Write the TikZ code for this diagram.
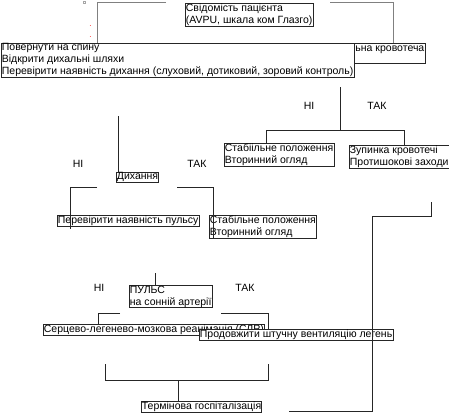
\documentclass[tikz,border=0pt]{standalone}
\usepackage{fontspec}
\setmainfont{Liberation Sans}
\usetikzlibrary{positioning}

\tikzset{
  box/.style={draw=black!85, fill=white, anchor=north west, align=left,
    inner xsep=0.6pt, inner ysep=0.4pt, line width=0.6pt,
    font=\fontsize{10.5}{12}\selectfont},
  lbl/.style={font=\fontsize{10.5}{12}\selectfont},
  link/.style={draw=black!85, line width=0.7pt},
}

\begin{document}
\begin{tikzpicture}[x=1pt,y=-1pt]
\useasboundingbox (0,0) rectangle (449,413);

% boxes
\node[box] (krov) at (335,43) {Сильна кровотеча\\\phantom{x}};
\node[box] (svid) at (185,3) {Свідомість пацієнта\\(AVPU, шкала ком Глазго)};
\node[box] (povern) at (1,43) {Повернути на спину\\Відкрити дихальні шляхи\\Перевірити наявність дихання (слуховий, дотиковий, зоровий контроль)};
\node[box] (stab1) at (224,143) {Стабіільне положення\\Вторинний огляд};
\node[box] (zup) at (349,145) {Зупинка кровотечі\\Протишокові заходи};
\node[box] (dykh) at (116,172) {Дихання};
\node[box] (perev) at (57,215) {Перевірити наявність пульсу};
\node[box] (stab2) at (209,215) {Стабільне положення\\Вторинний огляд};
\node[box] (puls) at (129,285) {ПУЛЬС\\на сонній артерії};
\node[box] (slr) at (43,324) {Серцево-легенево-мозкова реанімація (СЛР)};
\node[box] (shvl) at (199,329) {Продовжити штучну вентиляцію легень};
\node[box] (hosp) at (141,401) {Термінова госпіталізація};

% labels
\node[lbl] (ni1) at (309,106) {НІ};
\node[lbl] (tak1) at (377,106) {ТАК};
\node[lbl] (ni2) at (78,164) {НІ};
\node[lbl] (tak2) at (197,164) {ТАК};
\node[lbl] (ni3) at (99,288) {НІ};
\node[lbl] (tak3) at (245,288) {ТАК};

% top lines
\coordinate (ta) at (166,2);
\coordinate (tb) at (97,43);
\coordinate (tc) at (330,2);
\coordinate (td) at (393,43);
\draw[link,draw=gray] (ta) -| (tb);
\draw[link,draw=gray] (tc) -| (td);
\draw[red!60,line width=0.5pt] (89.5,25) -- (91,25) (89.5,36) -- (91,36);
\draw[gray!70,line width=0.4pt] (83.2,1.2) rectangle (85.2,3.2);

% bleeding split
\coordinate (ka) at (340,87);
\coordinate (kb) at (340,130);
\draw[link] (ka) -- (kb);
\draw[link] (stab1.north west -| 266,0) |- (404,130) -- (zup.north west -| 404,0);

% breathing split
\coordinate (da) at (118,116);
\draw[link] (da) -- (dykh.north west -| da);
\coordinate (dl) at (97,187);
\coordinate (dl2) at (70,229);
\draw[link] (dl) -| (dl2);
\coordinate (dr) at (177,187);
\coordinate (dr2) at (213,239);
\draw[link] (dr) -| (dr2);

% pulse split
\coordinate (pa) at (155,273);
\draw[link] (pa) -- (puls.north west -| pa);
\coordinate (pl) at (120,313);
\coordinate (pl2) at (98,324);
\draw[link] (pl) -| (pl2);
\coordinate (pr) at (221,313);
\coordinate (pr2) at (268,330);
\draw[link] (pr) -| (pr2);

% join to hospital
\coordinate (ja) at (105,364);
\coordinate (jb) at (268,364);
\coordinate (jc) at (178,380);
\draw[link] (ja) |- (jc) -| (jb);
\draw[link] (jc) -- (hosp.north west -| jc);

% right return
\coordinate (ra) at (431,202);
\coordinate (rb) at (372,216);
\coordinate (rc) at (289,411);
\draw[link] (ra) |- (rb) |- (rc);
\end{tikzpicture}
\end{document}
